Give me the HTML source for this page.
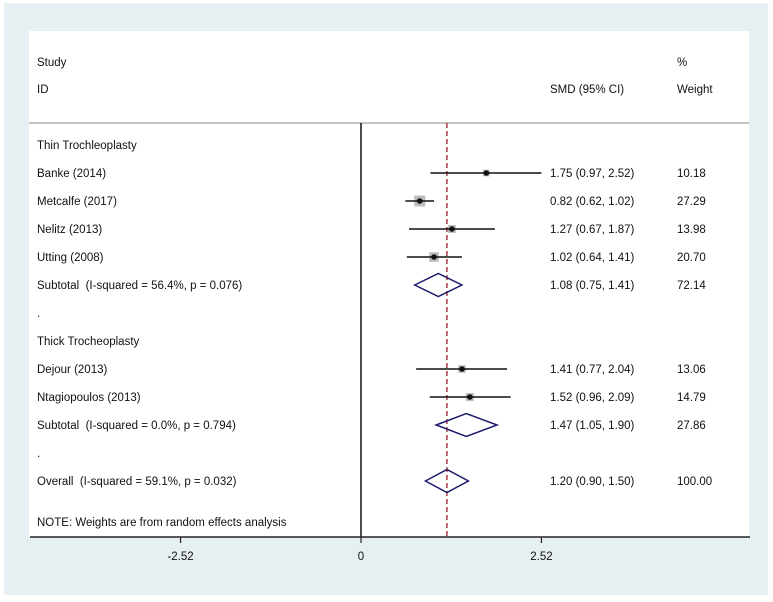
<!DOCTYPE html>
<html><head><meta charset="utf-8"><style>
body{margin:0;width:773px;height:602px;background:#fff;overflow:hidden}
svg{display:block}
text{font-family:"Liberation Sans",Arial,sans-serif;font-size:11.5px;fill:#111;white-space:pre}
</style></head><body>
<svg id="chart" width="773" height="602">
<rect x="4" y="3" width="764" height="592" fill="#e6eff1"/>
<rect x="29" y="31" width="720" height="506" fill="#fff"/>
<text x="37" y="66">Study</text>
<text x="37" y="93">ID</text>
<text x="550" y="93">SMD (95% CI)</text>
<text x="677" y="66">%</text>
<text x="677" y="93">Weight</text>
<line x1="29" y1="123" x2="749" y2="123" stroke="#888" stroke-width="1"/>
<g id="marks"></g>
<text x="37" y="526">NOTE: Weights are from random effects analysis</text>
</svg>
<script>
const labels=["Thin Trochleoplasty","Banke (2014)","Metcalfe (2017)","Nelitz (2013)","Utting (2008)","Subtotal  (I-squared = 56.4%, p = 0.076)",".","Thick Trocheoplasty","Dejour (2013)","Ntagiopoulos (2013)","Subtotal  (I-squared = 0.0%, p = 0.794)",".","Overall  (I-squared = 59.1%, p = 0.032)"];
const kinds=["h","s","s","s","s","d","b","h","s","s","d","b","d"];
const est=[null,1.75,0.82,1.27,1.02,1.08,null,null,1.41,1.52,1.47,null,1.20];
const lo=[null,0.97,0.62,0.67,0.64,0.75,null,null,0.77,0.96,1.05,null,0.90];
const hi=[null,2.52,1.02,1.87,1.41,1.41,null,null,2.04,2.09,1.90,null,1.50];
const weights=[null,10.18,27.29,13.98,20.70,72.14,null,null,13.06,14.79,27.86,null,100.00];
const ticks=[-2.52,0,2.52];
const overall=1.20;
const x=v=>361+v*71.6;
const rowY=i=>145+i*28;
const ns="http://www.w3.org/2000/svg";
const g=document.getElementById('marks');
function mk(t,a){const e=document.createElementNS(ns,t);for(const k in a)e.setAttribute(k,a[k]);g.appendChild(e);return e;}
let zl=mk('line',{x1:x(0),y1:123,x2:x(0),y2:537,stroke:'#111','stroke-width':1.5});


let ax=mk('line',{x1:30,y1:537,x2:750,y2:537,stroke:'#222','stroke-width':1.5});


ticks.forEach(t=>{
 let tl=mk('line',{x1:x(t),y1:537,x2:x(t),y2:543,stroke:'#222','stroke-width':1.2});
 
 
 let tt=mk('text',{x:x(t),y:560,'text-anchor':'middle'});tt.textContent=t.toFixed(t===0?0:2);
 
 
});
let ol=mk('line',{x1:x(overall),y1:123,x2:x(overall),y2:537,stroke:'#a01c2a','stroke-width':1.3,'stroke-dasharray':'5,3'});


labels.forEach((lab,i)=>{
 const y=rowY(i);
 let t=mk('text',{x:37,y:y+4});t.textContent=lab;
 
 
 if(est[i]==null)return;
 let v=mk('text',{x:550,y:y+4});v.textContent=est[i].toFixed(2)+' ('+lo[i].toFixed(2)+', '+hi[i].toFixed(2)+')';
 
 
 let w=mk('text',{x:677,y:y+4});w.textContent=weights[i].toFixed(2);
 
 
 if(kinds[i]==='s'){
  const s=11*Math.sqrt(weights[i]/27.29);
  let sq=mk('rect',{x:x(est[i])-s/2,y:y-s/2,width:s,height:s,fill:'#bdbdbd'});
  
  
  let ci=mk('line',{x1:x(lo[i]),y1:y,x2:x(hi[i]),y2:y,stroke:'#111','stroke-width':1.5});
  
  
  let pt=mk('circle',{cx:x(est[i]),cy:y,r:2.8,fill:'#111'});
  
  
 } else {
  const h=11.5;
  let d=mk('polygon',{points:`${x(lo[i])},${y} ${x(est[i])},${y-h} ${x(hi[i])},${y} ${x(est[i])},${y+h}`,fill:'none',stroke:'#1c1c6b','stroke-width':1.5});
  
  
 }
});
</script>
</body></html>
